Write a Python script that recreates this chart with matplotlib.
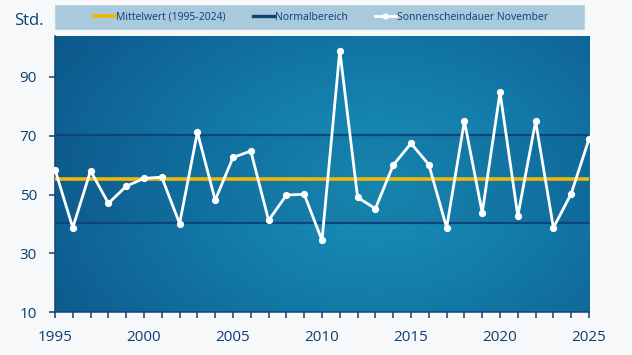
import numpy as np
import matplotlib
matplotlib.use("Agg")
import matplotlib.pyplot as plt
from matplotlib.colors import LinearSegmentedColormap
from matplotlib.lines import Line2D
from matplotlib.patches import Rectangle

# Sonnenscheindauer November (Std.)
years = list(range(1995, 2026))
hours = [58.5, 38.7, 58.1, 47.0, 52.8, 55.5, 55.9, 40.1, 71.2, 48.1,
         62.6, 64.8, 41.2, 49.8, 50.1, 34.4, 99.0, 49.0, 45.2, 60.0,
         67.4, 60.2, 38.7, 75.0, 43.8, 84.8, 42.7, 74.9, 38.7, 50.3, 68.9]
mean_value = 55.3
normal_low, normal_high = 40.3, 70.3
yticks = [10, 30, 50, 70, 90]
xlabels = [1995, 2000, 2005, 2010, 2015, 2020, 2025]

plt.rcParams['font.family'] = ['Open Sans', 'DejaVu Sans']
txt = '#0d3f72'

fig = plt.figure(figsize=(6.32, 3.55), dpi=100, facecolor='#f7f8f9')
ax = fig.add_axes([0.087, 0.121, 0.845, 0.778])
ymin, ymax = 10, 104
ax.set_xlim(1995, 2025)
ax.set_ylim(ymin, ymax)

# background glow
gx, gy = np.meshgrid(np.linspace(0, 1, 400), np.linspace(0, 1, 300))
r = np.sqrt(((gx - 0.6) * 1.1) ** 2 + ((gy - 0.45) * 0.8) ** 2)
glow = np.clip(1 - r / 0.8, 0, 1) ** 1.1
cmap = LinearSegmentedColormap.from_list('bg', ['#0e588b', '#1278a8', '#1a92ba'])
ax.imshow(glow, cmap=cmap, extent=[1995, 2025, ymin, ymax], origin='lower',
          aspect='auto', zorder=0, vmin=0, vmax=1)
ax.axhspan(normal_low, normal_high, color='#0a3f70', alpha=0.15, lw=0, zorder=1)

ax.axhline(normal_high, color='#0b4677', lw=1.6, zorder=2)
ax.axhline(normal_low, color='#0b4677', lw=1.6, zorder=2)
ax.axhline(mean_value, color='#f2b705', lw=2.6, zorder=3)
ax.plot(years, hours, color='white', lw=2, marker='o', ms=4.2, zorder=4,
        clip_on=False)

ax.set_yticks(yticks)
ax.set_xticks(years, minor=True)
ax.set_xticks(xlabels)
ax.tick_params(axis='both', colors=txt, labelsize=11, length=4, width=1.1)
ax.tick_params(axis='x', which='minor', length=4, width=1.1, colors=txt)
ax.tick_params(axis='x', pad=9)
ax.tick_params(axis='y', pad=9)
for s in ['top', 'right']:
    ax.spines[s].set_visible(False)
for s in ['left', 'bottom']:
    ax.spines[s].set_color('#0b4677')
    ax.spines[s].set_linewidth(1.1)

fig.text(0.022, 0.94, 'Std.', color=txt, fontsize=12, va='center')

# legend box
fig.patches.append(Rectangle((0.087, 0.918), 0.837, 0.068, transform=fig.transFigure,
                             facecolor='#a9c9dc', edgecolor='#bcd6e4', lw=0.8, zorder=0))
handles = [
    Line2D([], [], color='#f2b705', lw=2.6),
    Line2D([], [], color='#0b4677', lw=2.4),
    Line2D([], [], color='white', lw=2, marker='o', ms=3.5),
]
labels = ['Mittelwert (1995-2024)', 'Normalbereich', 'Sonnenscheindauer November']
leg = fig.legend(handles, labels, ncol=3, loc='center',
                 bbox_to_anchor=(0.508, 0.952), frameon=False, fontsize=7.5,
                 handlelength=2.0, handletextpad=0.1, borderaxespad=0,
                 borderpad=0, columnspacing=2.6)
for t in leg.get_texts():
    t.set_color(txt)

fig.savefig('out.png', dpi=100, facecolor=fig.get_facecolor())
